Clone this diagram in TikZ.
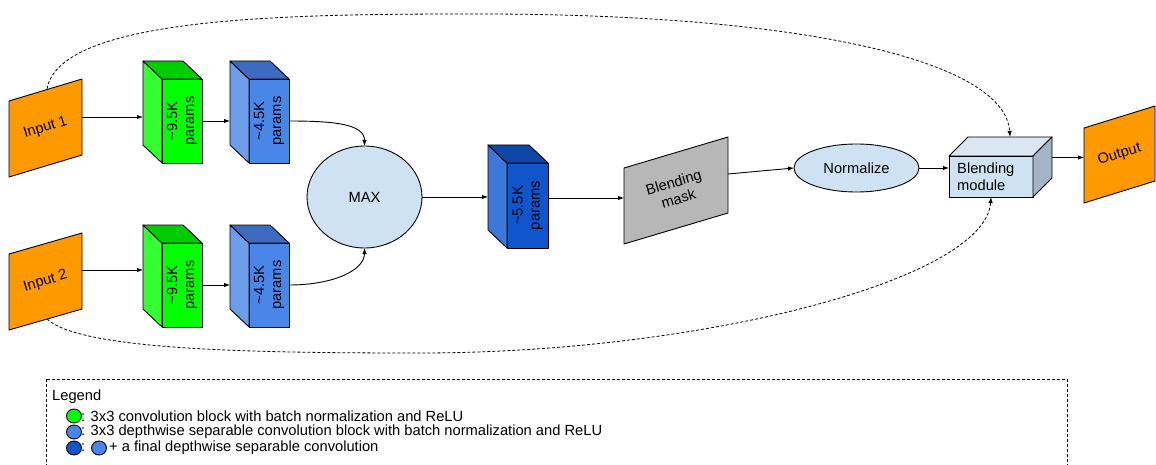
\documentclass[tikz,border=0pt]{standalone}
\usepackage{fontspec}
\setmainfont{Liberation Sans}
\usetikzlibrary{arrows.meta,shapes.geometric}
\definecolor{orng}{HTML}{FF9900}
\definecolor{gfront}{HTML}{00FF00}
\definecolor{gside}{HTML}{33FF33}
\definecolor{gtop}{HTML}{00CC00}
\definecolor{bfront}{HTML}{4A86E8}
\definecolor{bside}{HTML}{6D9EEB}
\definecolor{btop}{HTML}{3D6BBF}
\definecolor{dfront}{HTML}{1155CC}
\definecolor{dside}{HTML}{3C78D8}
\definecolor{dtop}{HTML}{0E47A6}
\definecolor{lblue}{HTML}{CFE2F3}
\definecolor{ltop}{HTML}{D9E7F5}
\definecolor{lside}{HTML}{A2B4C6}
\definecolor{gry}{HTML}{B7B7B7}
\newcommand\cubeleft[7]{%
  \node[face, fill=#5, minimum width=#3pt, minimum height=#4pt] (#1) at (#2) {};
  \draw[face, fill=#6] (#1.north west) -- ++(-19,-18) -- ([shift={(-19,-18)}]#1.south west) -- (#1.south west) -- cycle;
  \draw[face, fill=#7] (#1.north west) -- ++(-19,-18) -- ([shift={(-19,-18)}]#1.north east) -- (#1.north east) -- cycle;
  \coordinate (#1-bw) at ([shift={(-19,-9)}]#1.west);
}
\begin{document}
\begin{tikzpicture}[x=1pt,y=-1pt,
  txt/.style={font=\fontsize{14.7}{17}\selectfont, inner sep=0pt, align=center},
  legtxt/.style={font=\fontsize{14.7}{17}\selectfont, inner sep=0pt, anchor=west},
  face/.style={draw=black, line width=0.9pt, line join=round, inner sep=0pt, outer sep=0pt},
  legdot/.style={face, ellipse, minimum width=15pt, minimum height=14pt},
  arr/.style={-{Latex[length=6pt,width=4.5pt]}, line width=0.9pt},
  dsh/.style={arr, dash pattern=on 3pt off 2pt, line width=0.8pt},
  oval/.style={face, ellipse, fill=lblue, font=\fontsize{14.7}{17}\selectfont},
]
\path[use as bounding box] (0,0) rectangle (1156,465);
\clip (0,0) rectangle (1156,465);

% inputs
\draw[face, fill=orng] (9,101) -- (82,79) -- (82,155) -- (9,177) -- cycle;
\node[txt, rotate=17] (in1) at (45.5,128) {Input 1};
\coordinate (in1e) at (82,117);
\coordinate (in1t) at (47,89);
\draw[face, fill=orng] (9,254) -- (82,233) -- (82,309) -- (9,330) -- cycle;
\node[txt, rotate=17] (in2) at (45.5,281.5) {Input 2};
\coordinate (in2e) at (82,270);
\coordinate (in2b) at (47,319);

% cubes
\cubeleft{g1}{182,121}{40}{84}{gfront}{gside}{gtop}
\node[txt, rotate=90] (g1t) at (g1) {\char"7E 9.5K\\params};
\cubeleft{b1}{269,121}{40}{84}{bfront}{bside}{btop}
\node[txt, rotate=90] (b1t) at (b1) {\char"7E 4.5K\\params};
\cubeleft{g2}{182,285}{40}{84}{gfront}{gside}{gtop}
\node[txt, rotate=90] (g2t) at (g2) {\char"7E 9.5K\\params};
\cubeleft{b2}{269,285}{40}{84}{bfront}{bside}{btop}
\node[txt, rotate=90] (b2t) at (b2) {\char"7E 4.5K\\params};

% MAX
\node[oval, minimum width=115pt, minimum height=102pt] (max) at (364.5,197) {MAX};

\cubeleft{db}{527.5,205.5}{41}{85}{dfront}{dside}{dtop}
\node[txt, rotate=90] (dbt) at (db) {\char"7E 5.5K\\params};

% blending mask
\draw[face, fill=gry] (624,168) -- (728,137) -- (728,213) -- (624,244) -- cycle;
\node[txt, rotate=16.6] (mask) at (676,190.5) {Blending\\mask};
\coordinate (maskl) at (624,198);
\coordinate (maske) at (728,174);

% normalize
\node[oval, minimum width=125pt, minimum height=48pt] (norm) at (856.5,168) {Normalize};

% blending module
\node[face, fill=lblue, minimum width=84pt, minimum height=41pt] (blend) at (991,176.5) {};
\draw[face, fill=ltop] (blend.north west) -- ++(19,-19) -- ([shift={(19,-19)}]blend.north east) -- (blend.north east) -- cycle;
\draw[face, fill=lside] (blend.north east) -- ++(19,-19) -- ([shift={(19,-19)}]blend.south east) -- (blend.south east) -- cycle;
\node[txt, align=left, anchor=west] (blendt) at (957,176.5) {Blending\\module};
\coordinate (blendre) at ([shift={(19,-19)}]blend.east);
\coordinate (blendtop) at ([shift={(19,-19)}]blend.north);

% output
\draw[face, fill=orng] (1084,128) -- (1155,106) -- (1155,181) -- (1084,203) -- cycle;
\node[txt, rotate=17] (out) at (1119.5,154.5) {Output};
\coordinate (outw) at (1084,157);

% connectors
\draw[arr] (in1e) -- (in1e -| g1-bw);
\draw[arr] (g1.east) -- (g1.east -| b1-bw);
\draw[arr] (in2e) -- (in2e -| g2-bw);
\draw[arr] (g2.east) -- (g2.east -| b2-bw);
\draw[arr] (b1.east) .. controls +(45,0) and +(0,-22) .. (max.north);
\draw[arr] (b2.east) .. controls +(45,0) and +(0,22) .. (max.south);
\draw[arr] (max.east) -- (max.east -| db-bw);
\draw[arr] (maskl -| db.east) -- (maskl);
\draw[arr] (maske) -- (norm.west);
\draw[arr] (norm.east) -- (norm.east -| blend.west);
\draw[arr] (blendre) -- (blendre -| outw);
\draw[dsh] (in1t) .. controls (60,15) and (300,14) .. (480,14) .. controls (800,14) and (1005,60) .. (blendtop);
\draw[dsh] (in2b) .. controls (80,350) and (250,353) .. (420,353) .. controls (700,353) and (985,280) .. (blend.south);

% legend
\draw[dash pattern=on 3pt off 2pt, line width=0.8pt] (46,379) rectangle (1067,480);
\node[legtxt] (leg) at (52,397) {Legend};
\node[legdot, fill=gfront] (lg1) at (74,416) {};
\node[legtxt] (lt1) at (81,416) {: 3x3 convolution block with batch normalization and ReLU};
\node[legdot, fill=bfront] (lg2) at (74,432) {};
\node[legtxt] (lt2) at (81,432) {: 3x3 depthwise separable convolution block with batch normalization and ReLU};
\node[legdot, fill=dfront] (lg3) at (74,448) {};
\node[legtxt] (lt3a) at (81,448) {:};
\node[legdot, fill=bfront] (lg4) at (99,448) {};
\node[legtxt] (lt3b) at (109,448) {+ a final depthwise separable convolution};
\end{tikzpicture}
\end{document}
